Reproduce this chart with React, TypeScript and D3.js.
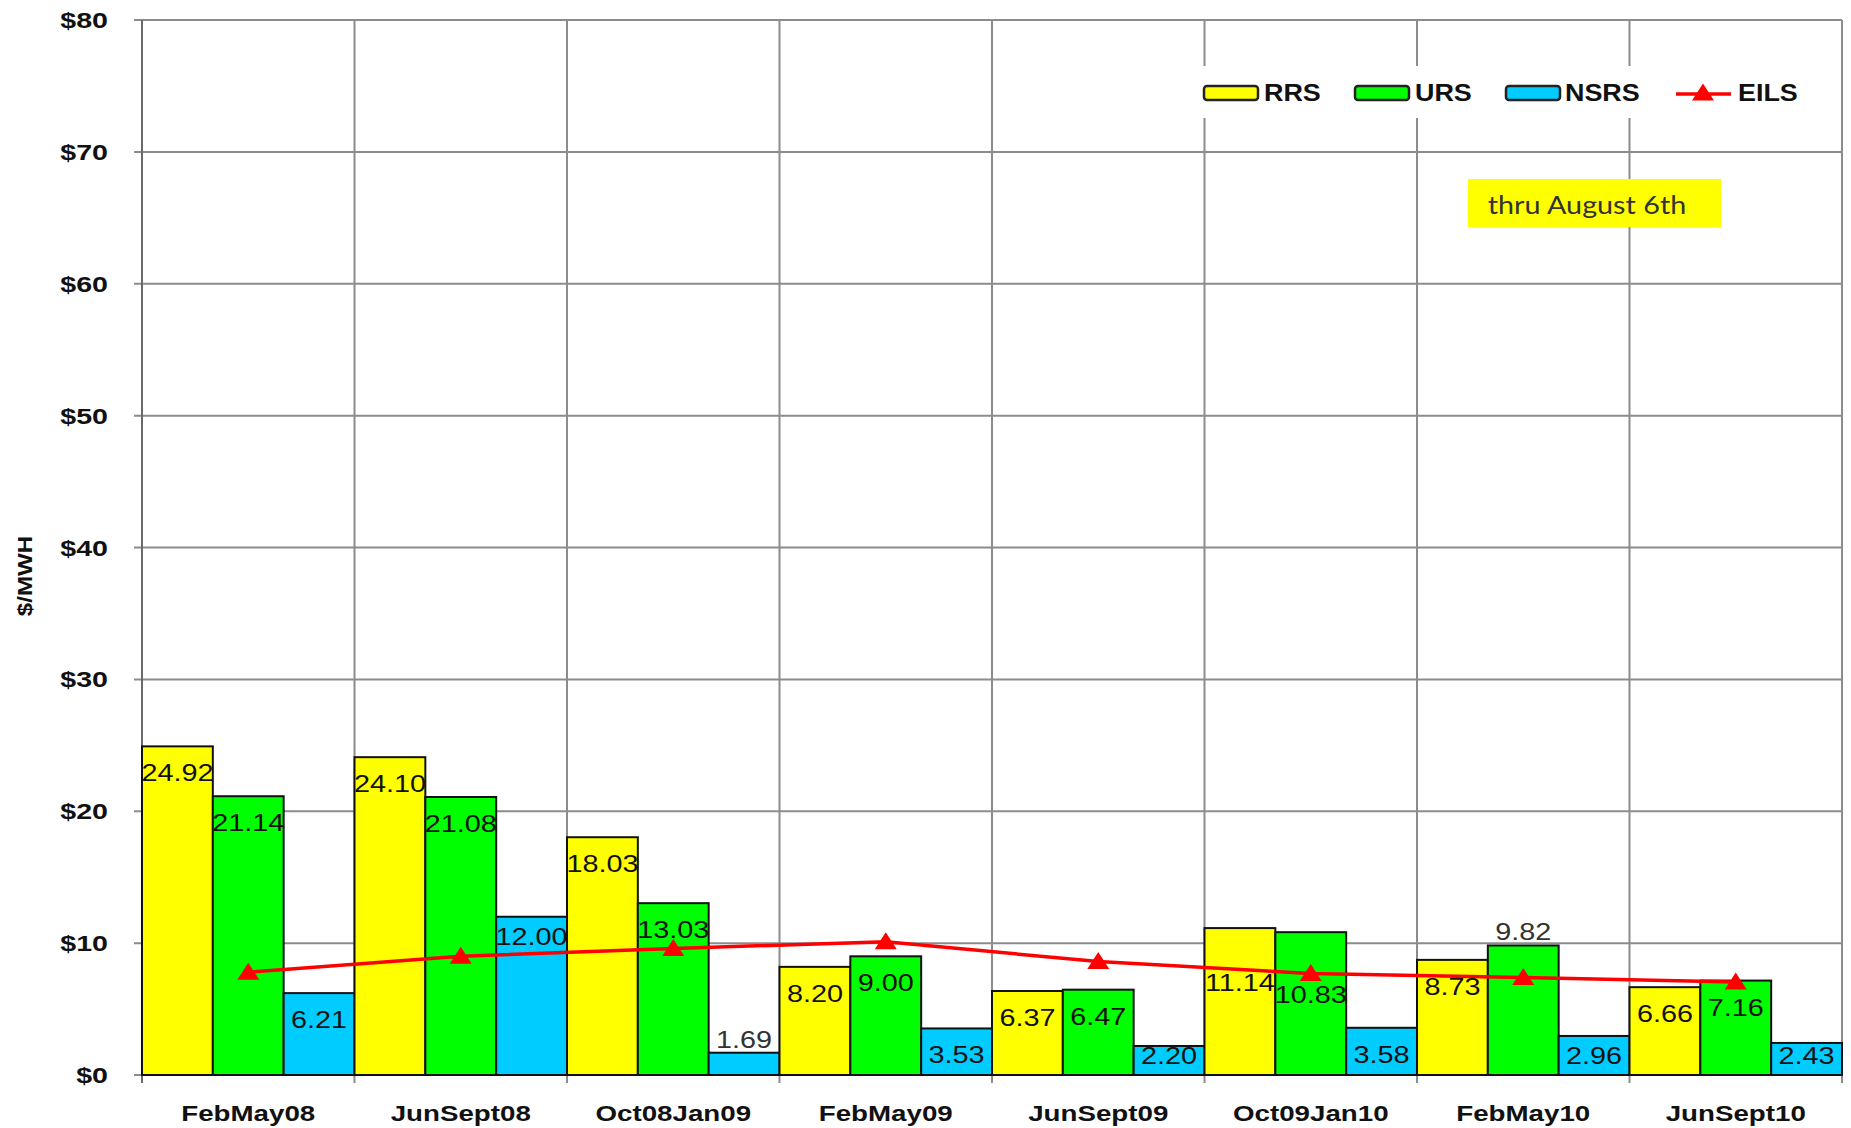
import React from 'react';
import * as d3 from 'd3';

const categories = ['FebMay08', 'JunSept08', 'Oct08Jan09', 'FebMay09', 'JunSept09', 'Oct09Jan10', 'FebMay10', 'JunSept10'];
const seriesNames = ['RRS', 'URS', 'NSRS'];
const rrs = [24.92, 24.10, 18.03, 8.20, 6.37, 11.14, 8.73, 6.66];
const urs = [21.14, 21.08, 13.03, 9.00, 6.47, 10.83, 9.82, 7.16];
const nsrs = [6.21, 12.00, 1.69, 3.53, 2.20, 3.58, 2.96, 2.43];
const eils = [7.8, 9.0, 9.6, 10.1, 8.6, 7.7, 7.4, 7.05];
const yTicks = [0, 10, 20, 30, 40, 50, 60, 70, 80];

const colors: Record<string, string> = { RRS: '#ffff00', URS: '#00ff00', NSRS: '#00ccff', EILS: '#ff0000' };
// label nudges (px) for labels Excel moved to avoid the line
const labelNudge: Record<string, number | 'above'> = {
  'NSRS-1': -7,
  'RRS-5': 28,
  'URS-5': 36,
  'URS-6': 'above',
};

const W = 1851;
const H = 1128;
const left = 142, right = 1842, top = 20, bottom = 1075;
const FONT = '"Liberation Sans", Arial, sans-serif';

export default function App() {
  const x = d3.scaleBand<string>().domain(categories).range([left, right]).padding(0);
  const xs = d3.scaleBand<string>().domain(seriesNames).range([0, x.bandwidth()]).padding(0);
  const y = d3.scaleLinear().domain([0, 80]).range([bottom, top]);
  const values: Record<string, number[]> = { RRS: rrs, URS: urs, NSRS: nsrs };

  const line = d3.line<number>()
    .x((_, i) => (x(categories[i]) as number) + x.bandwidth() / 2)
    .y((d) => y(d));
  const tri = 'M0,-9.5 L11,7.5 L-11,7.5 Z';

  const boundaries = categories.map((c) => x(c) as number).concat([right]);

  const legendItems = [
    { name: 'RRS', sx: 1204, tx: 1264 },
    { name: 'URS', sx: 1355, tx: 1415 },
    { name: 'NSRS', sx: 1506, tx: 1565 },
  ];

  return (
    <svg width={W} height={H} style={{ position: 'absolute', left: 0, top: 0, background: '#fff' }} fontFamily={FONT}>
      <rect x={0} y={0} width={W} height={H} fill="#fff" />
      {/* horizontal gridlines */}
      {yTicks.map((t) => (
        <line key={'h' + t} x1={left - 8} x2={right} y1={y(t)} y2={y(t)} stroke="#8c8c8c" strokeWidth={2} />
      ))}
      {/* vertical gridlines */}
      {boundaries.map((bx, i) => (
        <line key={'v' + i} x1={bx} x2={bx} y1={top} y2={bottom + 8} stroke={i === 0 ? '#6a6a6a' : '#8c8c8c'} strokeWidth={2} />
      ))}
      {/* legend background */}
      <rect x={1192} y={66} width={622} height={52} fill="#fff" />
      {/* annotation */}
      <rect x={1468} y={179} width={253} height={48} fill="#ffff00" />
      <text transform="translate(1587,214) scale(1.15,1)" textAnchor="middle" fontSize={25} fontFamily='Lato, "Open Sans", sans-serif' fill="#333">thru August 6th</text>

      {/* bars */}
      {categories.map((c, ci) => (
        <g key={c}>
          {seriesNames.map((s) => {
            const v = values[s][ci];
            const bx = (x(c) as number) + (xs(s) as number);
            return (
              <rect key={s} x={bx} y={y(v)} width={xs.bandwidth()} height={y(0) - y(v)} fill={colors[s]} stroke="#111" strokeWidth={2} />
            );
          })}
        </g>
      ))}

      {/* EILS line */}
      <path d={line(eils) || ''} fill="none" stroke={colors.EILS} strokeWidth={3.5} />
      {eils.map((v, i) => (
        <path key={i} d={tri} transform={`translate(${(x(categories[i]) as number) + x.bandwidth() / 2},${y(v)})`} fill={colors.EILS} />
      ))}

      {/* data labels */}
      {categories.map((c, ci) => (
        <g key={'l' + c}>
          {seriesNames.map((s) => {
            const v = values[s][ci];
            const cx = (x(c) as number) + (xs(s) as number) + xs.bandwidth() / 2;
            const key = `${s}-${ci}`;
            const nudge = labelNudge[key];
            let cy: number;
            let above = false;
            if (nudge === 'above' || v < 2) {
              cy = y(v) - 14;
              above = true;
            } else {
              cy = Math.min(y(v) + 26, y(0) - 20) + (typeof nudge === 'number' ? nudge : 0);
            }
            return (
              <text key={s} transform={`translate(${cx},${cy + 9}) scale(1.2,1)`} textAnchor="middle" fontSize={24} fill={above ? '#333' : '#111'}>
                {v.toFixed(2)}
              </text>
            );
          })}
        </g>
      ))}

      {/* y tick labels */}
      {yTicks.map((t) => (
        <text key={'yt' + t} transform={`translate(108,${y(t) + 8}) scale(1.3,1)`} textAnchor="end" fontSize={22} fontWeight="bold" fill="#111">
          {`$${t}`}
        </text>
      ))}
      {/* x labels */}
      {categories.map((c) => (
        <text key={'xl' + c} transform={`translate(${(x(c) as number) + x.bandwidth() / 2},1121) scale(1.26,1)`} textAnchor="middle" fontSize={22} fontWeight="bold" fill="#111">
          {c}
        </text>
      ))}
      {/* y axis title */}
      <text transform="translate(32,576) rotate(-90) scale(1.15,1)" textAnchor="middle" fontSize={21} fontWeight="bold" fill="#111">$/MWH</text>

      {/* legend */}
      {legendItems.map((l) => (
        <g key={l.name}>
          <rect x={l.sx} y={86} width={54} height={14} rx={3} fill={colors[l.name]} stroke="#222" strokeWidth={2.5} />
          <text transform={`translate(${l.tx},101) scale(1.17,1)`} fontSize={23} fontWeight="bold" fill="#111">{l.name}</text>
        </g>
      ))}
      <line x1={1676} x2={1731} y1={94} y2={94} stroke={colors.EILS} strokeWidth={3.5} />
      <path d={tri} transform="translate(1703,93)" fill={colors.EILS} />
      <text transform="translate(1738,101) scale(1.17,1)" fontSize={23} fontWeight="bold" fill="#111">EILS</text>
    </svg>
  );
}
